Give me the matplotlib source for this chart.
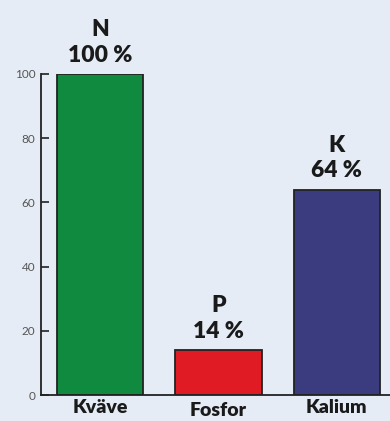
import matplotlib
matplotlib.use("Agg")
import matplotlib.pyplot as plt
from matplotlib.transforms import ScaledTranslation

categories = ["Kväve", "Fosfor", "Kalium"]
symbols = ["N", "P", "K"]
values = [100, 14, 64]
colors = ["#0f8a3f", "#e01b24", "#3b3b80"]
yticks = [0, 20, 40, 60, 80, 100]

BG = "#e5ecf6"

fig = plt.figure(figsize=(3.9, 4.21), dpi=100, facecolor=BG)
ax = fig.add_axes([41 / 390, 26 / 421, 349 / 390, 321 / 421], facecolor=BG)

x = list(range(len(values)))
bars = ax.bar(x, values, width=0.73, color=colors, edgecolor="#222222", linewidth=1.3)

for bar, sym, v in zip(bars, symbols, values):
    ax.annotate(f"{sym}\n{v} %", (bar.get_x() + bar.get_width() / 2, v),
                xytext=(0, 6), textcoords="offset points", ha="center", va="bottom",
                fontsize=16.5, fontweight="heavy", family="Lato", color="#1a1a1a",
                linespacing=1.25, annotation_clip=False)

ax.set_xlim(-0.5, 2.45)
ax.set_ylim(0, 100)
ax.set_yticks(yticks)
ax.set_yticklabels([str(t) for t in yticks], fontsize=8.5, color="#555555", family="Lato")
ax.tick_params(axis="y", direction="in", length=6, width=1.2, color="#222222", pad=4)
ax.set_xticks(x)
ax.set_xticklabels(categories, fontsize=14, fontweight="heavy", family="Lato", color="#1a1a1a")
ax.tick_params(axis="x", length=0, pad=3)

# Fosfor sits a bit lower than the other two labels
lab = ax.get_xticklabels()[1]
lab.set_transform(lab.get_transform() + ScaledTranslation(0, -2 / 72, fig.dpi_scale_trans))

for s in ["top", "right"]:
    ax.spines[s].set_visible(False)
for s in ["left", "bottom"]:
    ax.spines[s].set_color("#222222")
    ax.spines[s].set_linewidth(1.3)

fig.savefig("out.png", dpi=100, facecolor=BG)
